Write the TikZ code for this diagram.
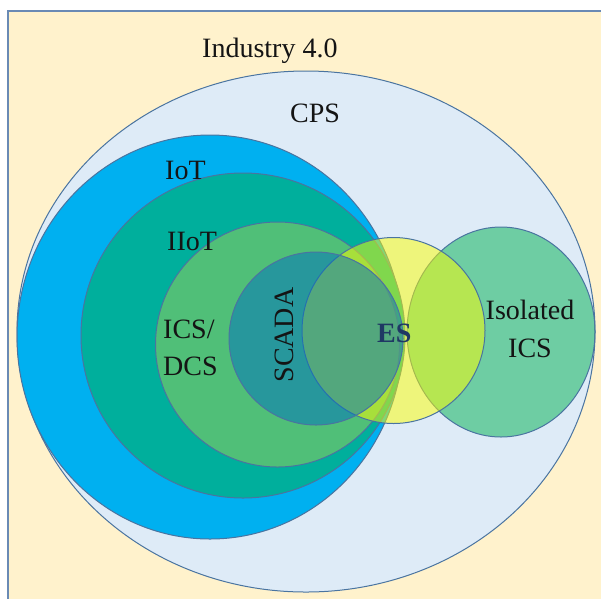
\documentclass[tikz,border=0pt]{standalone}
\usepackage{fontspec}
\setmainfont{Liberation Serif}
\definecolor{bg}{HTML}{FFF2CC}
\definecolor{framec}{HTML}{6A8AB4}
\definecolor{edgeblue}{HTML}{4A74A0}
\definecolor{cps}{HTML}{DEEBF7}
\definecolor{iot}{HTML}{00B0F0}
\definecolor{iiot}{HTML}{00AF9C}
\definecolor{ics}{HTML}{50BF78}
\definecolor{scada}{HTML}{0070C0}
\definecolor{isog}{HTML}{00B050}
\definecolor{esy}{HTML}{FFFF00}
\definecolor{txt}{HTML}{141414}
\definecolor{esnavy}{HTML}{1F3864}
\begin{document}
\begin{tikzpicture}[x=1pt,y=-1pt,
  ring/.style={draw=edgeblue, line width=1pt},
  lbl/.style={font=\fontsize{28}{34}\selectfont, text=txt, inner sep=0pt}]
\useasboundingbox (0,0) rectangle (601,598);
\clip (0,0) rectangle (601,598);
\fill[white] (0,0) rectangle (601,598);
\draw[fill=bg, draw=framec, line width=1.2pt] (8,11) rectangle (650,650);
% sets
\draw[ring, fill=cps] (306,331.5) ellipse [x radius=289pt, y radius=260.5pt];
\draw[ring, fill=isog, fill opacity=0.5] (501,332) ellipse [x radius=94pt, y radius=105pt];
\draw[ring, fill=iot] (210,337) ellipse [x radius=193pt, y radius=202pt];
\draw[ring, fill=iiot] (243,335.5) ellipse [x radius=162pt, y radius=162.5pt];
\draw[ring, fill=ics] (277.5,344.5) ellipse [x radius=122pt, y radius=122.5pt];
\draw[ring, fill=esy, fill opacity=0.5] (393.5,330.5) ellipse [x radius=91.5pt, y radius=93pt];
\draw[ring, fill=scada, fill opacity=0.5] (316,338.5) ellipse [x radius=87pt, y radius=86.5pt];
% labels
\node[lbl, anchor=base west] (ind) at (202,57) {Industry 4.0};
\node[lbl, anchor=base west] (cpsl) at (290,122) {CPS};
\node[lbl, anchor=base west] (iotl) at (165,179) {IoT};
\node[lbl, anchor=base west] (iiotl) at (167,250) {IIoT};
\node[lbl, anchor=base west] (icsl) at (163,338) {ICS/};
\node[lbl, anchor=base west] (dcsl) at (163,375) {DCS};
\node[lbl, rotate=90] (scadal) at (284,335) {SCADA};
\node[lbl, anchor=base west, text=esnavy, font=\fontsize{28}{34}\selectfont\bfseries] (esl) at (377,342) {ES};
\node[lbl, anchor=base] (isol) at (530,319) {Isolated};
\node[lbl, anchor=base] (isoics) at (530,357) {ICS};
\end{tikzpicture}
\end{document}
